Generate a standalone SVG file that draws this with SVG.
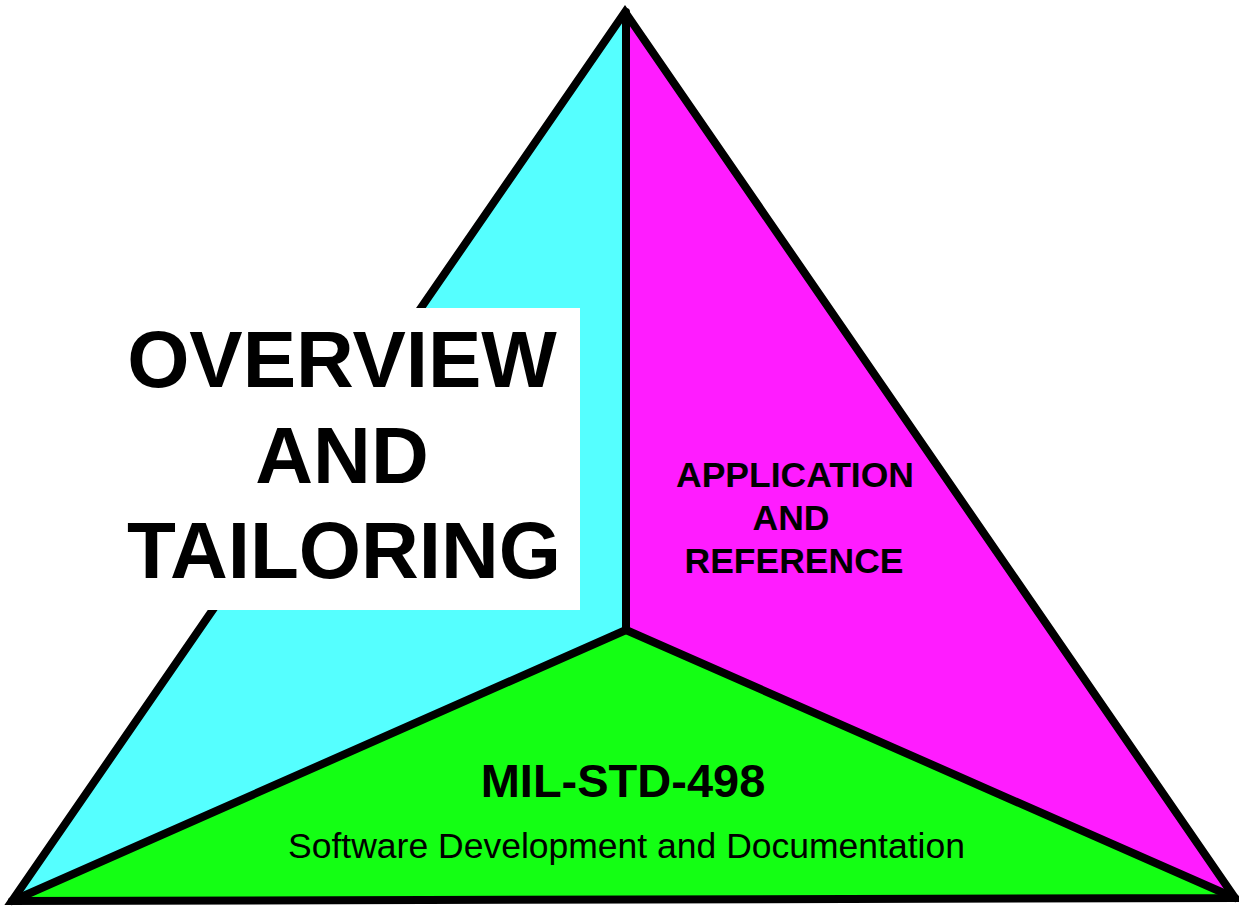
<svg xmlns="http://www.w3.org/2000/svg" width="1239" height="907" viewBox="0 0 1239 907">
<style>
.edge{fill:none;stroke:#000;stroke-width:8;stroke-linejoin:miter;stroke-linecap:round}
.big{font-family:"Liberation Sans",Arial,sans-serif;font-weight:bold;font-size:80px;fill:#000;text-anchor:middle}
.mid{font-family:"Liberation Sans",Arial,sans-serif;font-weight:bold;font-size:35.5px;fill:#000;text-anchor:middle}
.ttl{font-family:"Liberation Sans",Arial,sans-serif;font-weight:bold;font-size:47px;fill:#000;text-anchor:middle}
.sub{font-family:"Liberation Sans",Arial,sans-serif;font-size:35.5px;fill:#000;text-anchor:middle}
</style>
<rect width="1239" height="907" fill="#fff"/>
<g id="node-overview">
<polygon points="626,12 626,630 12,901" fill="#55FFFF"/>
</g>
<g id="node-application">
<polygon points="626,12 1235,898 626,630" fill="#FF1CFF"/>
<text class="mid" x="795" y="487">APPLICATION</text>
<text class="mid" x="791" y="530">AND</text>
<text class="mid" x="794" y="573">REFERENCE</text>
</g>
<g id="node-milstd">
<polygon points="626,630 1235,898 12,901" fill="#14FF14"/>
<text class="ttl" x="623" y="797">MIL-STD-498</text>
<text class="sub" x="626.5" y="858">Software Development and Documentation</text>
</g>
<g id="connectors">
<polygon class="edge" points="625,12 1235,898 12,901"/>
<line class="edge" x1="626" y1="12" x2="626" y2="630" stroke-width="10"/>
<line class="edge" x1="626" y1="630" x2="12" y2="901"/>
<line class="edge" x1="626" y1="630" x2="1235" y2="898"/>
</g>
<g id="node-overview-label">
<rect x="110" y="308" width="470" height="302" fill="#fff"/>
<text class="big" x="342" y="387">OVERVIEW</text>
<text class="big" x="342" y="483">AND</text>
<text class="big" x="344" y="578">TAILORING</text>
</g>
</svg>
